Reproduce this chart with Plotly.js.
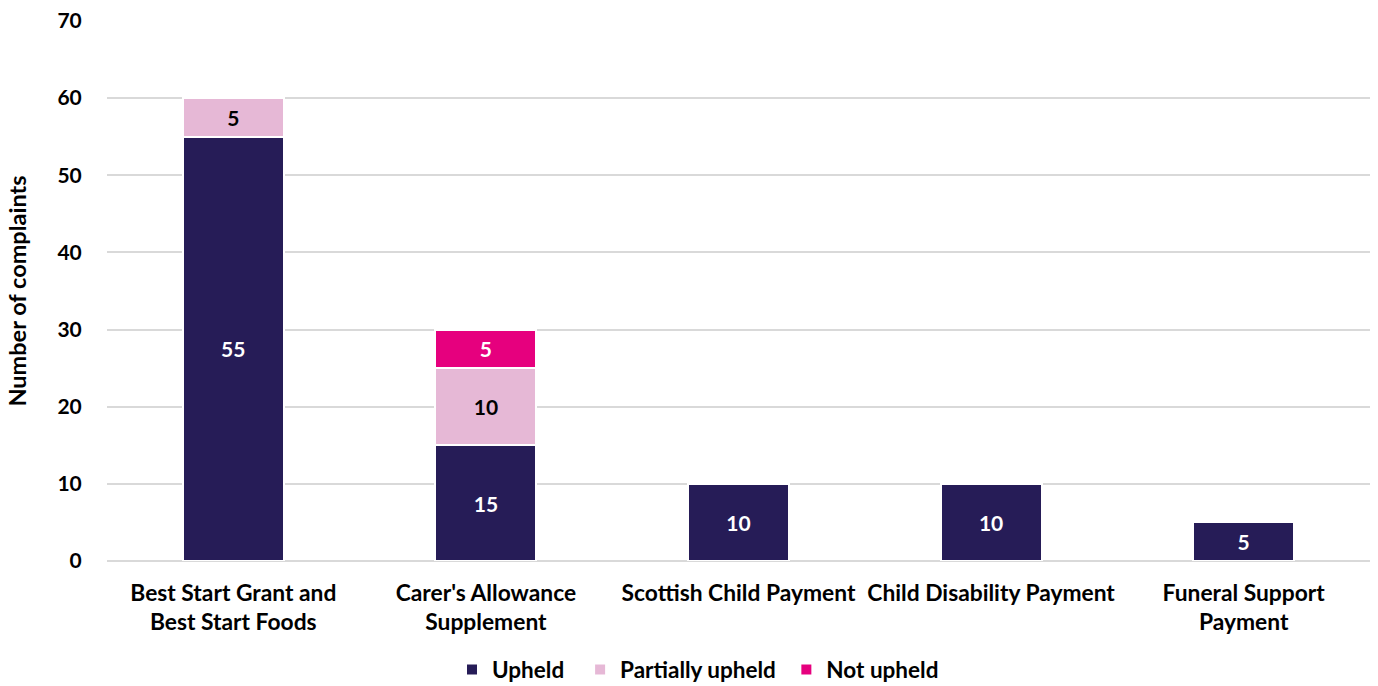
<!DOCTYPE html>
<html>
<head>
<meta charset="utf-8">
<script src="https://cdn.plot.ly/plotly-3.0.1.min.js"></script>
<style>html,body{margin:0;padding:0;background:#fff;}#chart{width:1378px;height:686px;}</style>
</head>
<body>
<div id="chart"></div>
<script>
const categories = ["Best Start Grant and<br>Best Start Foods", "Carer's Allowance<br>Supplement", "Scottish Child Payment", "Child Disability Payment", "Funeral Support<br>Payment"];
const upheld = [55, 15, 10, 10, 5];
const partiallyUpheld = [5, 10, null, null, null];
const notUpheld = [null, 5, null, null, null];
const seriesNames = ["Upheld", "Partially upheld", "Not upheld"];
const colors = ["#261C57", "#E6B8D6", "#E6007E"];
const textColors = ["#FFFFFF", "#000000", "#FFFFFF"];
const yTicks = [0, 10, 20, 30, 40, 50, 60, 70];

const FONT = "Lato, Carlito, Calibri, sans-serif";
const nameSuffix = ["\u00a0\u00a0", "\u00a0", ""];
const series = [upheld, partiallyUpheld, notUpheld];
const traces = series.map((vals, i) => ({
  type: 'bar',
  name: seriesNames[i] + nameSuffix[i],
  x: categories,
  y: vals,
  text: vals.map(v => v == null ? '' : String(v)),
  textposition: 'inside',
  insidetextanchor: 'middle',
  textangle: 0,
  constraintext: 'none',
  textfont: {family: FONT, size: 21, color: textColors[i], weight: 700},
  marker: {color: colors[i], line: {color: '#FFFFFF', width: 2}},
  hoverinfo: 'x+y+name'
}));

const layout = {
  width: 1378,
  height: 686,
  barmode: 'stack',
  bargap: 0.6,
  margin: {l: 107, r: 8, t: 21, b: 125},
  paper_bgcolor: '#FFFFFF',
  plot_bgcolor: '#FFFFFF',
  font: {family: FONT, color: '#000000', weight: 700},
  xaxis: {
    tickfont: {family: FONT, size: 22.8, color: '#000000', weight: 700},
    showgrid: false,
    showline: false,
    ticks: '',
    ticklabelstandoff: 16,
    automargin: false
  },
  yaxis: {
    range: [0, 70],
    tickvals: yTicks,
    ticktext: yTicks.map(String),
    tickfont: {family: FONT, size: 21, color: '#000000', weight: 700},
    gridcolor: '#D9D9D9',
    gridwidth: 2,
    zeroline: true,
    zerolinecolor: '#D9D9D9',
    zerolinewidth: 2,
    showline: false,
    ticks: 'outside',
    ticklen: 20,
    tickcolor: 'rgba(0,0,0,0)',
    title: {text: 'Number of complaints', font: {family: FONT, size: 23.5, color: '#000000', weight: 700}, standoff: 24},
    automargin: false
  },
  legend: {
    orientation: 'h',
    x: 0.328,
    xanchor: 'left',
    xref: 'container',
    yref: 'container',
    y: 0.055,
    yanchor: 'top',
    font: {family: FONT, size: 22.5, color: '#000000', weight: 700},
    itemwidth: 30,
    traceorder: 'normal'
  },
  showlegend: true
};

Plotly.newPlot('chart', traces, layout, {displayModeBar: false, staticPlot: true});
</script>
</body>
</html>
